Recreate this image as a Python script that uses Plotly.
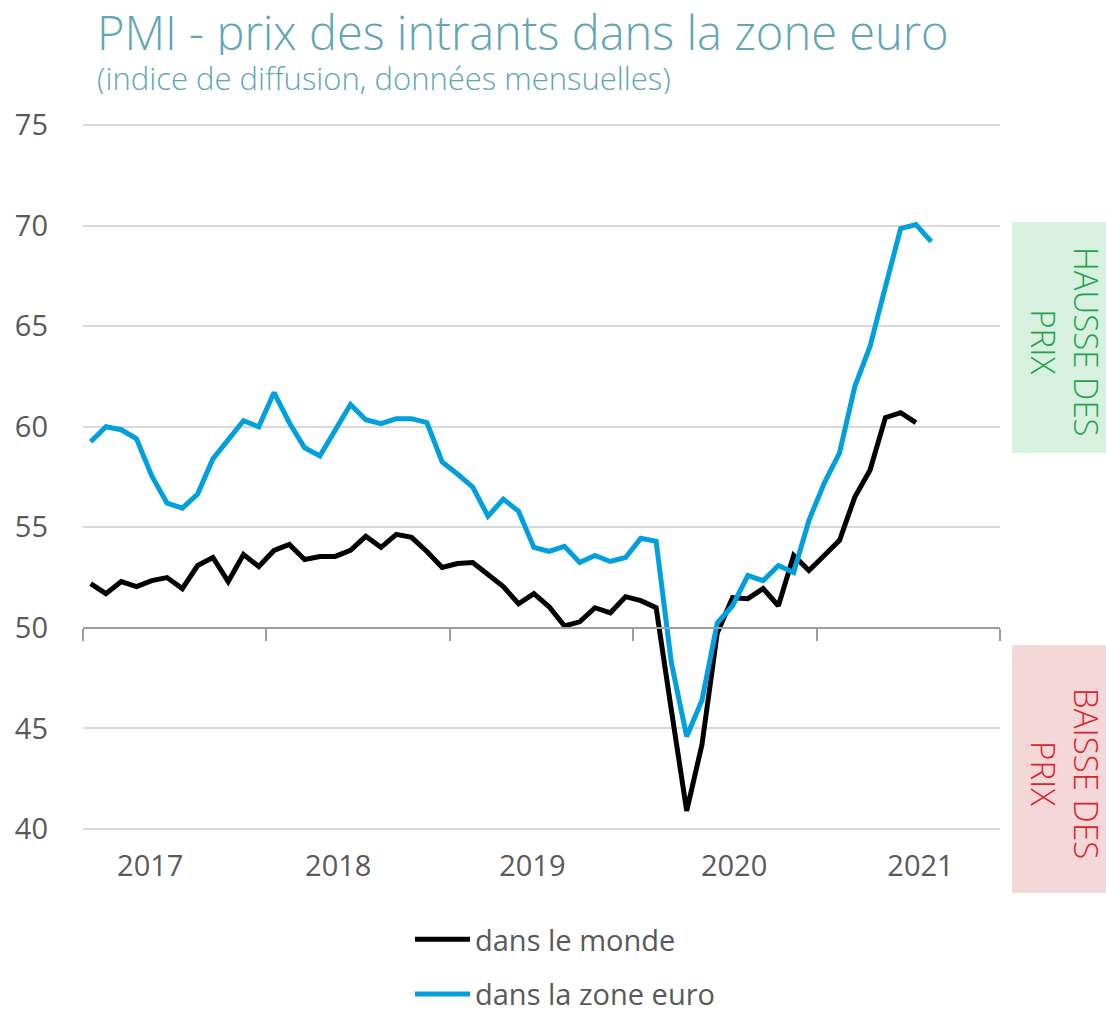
import plotly.graph_objects as go

# ---- data ----
months = [f"{y}-{m:02d}" for y in range(2017, 2022) for m in range(1, 13)][:56]

world = [52.2, 51.7, 52.3, 52.05, 52.35, 52.5, 51.95, 53.1, 53.5, 52.3, 53.65, 53.05,
         53.85, 54.15, 53.4, 53.55, 53.55, 53.85, 54.55, 54.0, 54.65, 54.5, 53.8, 53.0,
         53.2, 53.25, 52.65, 52.05, 51.2, 51.7, 51.05, 50.1, 50.3, 51.0, 50.75, 51.55,
         51.35, 51.0, 45.9, 40.9, 44.2, 49.75, 51.5, 51.45, 51.95, 51.1, 53.6, 52.85,
         53.6, 54.35, 56.5, 57.85, 60.45, 60.7, 60.2, None]

euro = [59.25, 60.0, 59.85, 59.4, 57.55, 56.2, 55.95, 56.65, 58.4, 59.4, 60.3, 60.0,
        61.7, 60.2, 58.95, 58.55, 59.85, 61.1, 60.35, 60.15, 60.4, 60.4, 60.2, 58.25,
        57.65, 57.0, 55.55, 56.4, 55.8, 54.0, 53.8, 54.05, 53.25, 53.6, 53.3, 53.5,
        54.45, 54.3, 48.25, 44.6, 46.4, 50.25, 51.1, 52.6, 52.35, 53.1, 52.75, 55.35,
        57.2, 58.7, 62.0, 64.0, 66.95, 69.85, 70.05, 69.2]

year_labels = ["2017", "2018", "2019", "2020", "2021"]
year_label_pos = [3.9, 16.2, 28.9, 42.1, 54.3]
year_bounds = [-0.5, 11.5, 23.5, 35.5, 47.5, 59.5]
y_ticks = [40, 45, 50, 55, 60, 65, 70, 75]

x_idx = list(range(len(months)))

FONT = "Open Sans"
GRAY = "#595959"
TITLE_COL = "#62A6B5"

fig = go.Figure()
fig.add_trace(go.Scatter(x=x_idx, y=world, mode="lines", name="dans le monde",
                         line=dict(color="#000000", width=5), legendgroup="a"))
fig.add_trace(go.Scatter(x=x_idx, y=euro, mode="lines", name="dans la zone euro",
                         line=dict(color="#00A0DF", width=5), legendgroup="b"))
# empty helper trace so the 50-level axis (x2) is rendered
fig.add_trace(go.Scatter(x=[], y=[], xaxis="x2", yaxis="y", showlegend=False,
                         hoverinfo="skip"))

W, H = 1106, 1010
L, R, T, B = 83, 106, 124, 180
pw, ph = W - L - R, H - T - B
Y0, Y1 = 39.95, 75.05


def px_x(p):
    return (p - L) / pw


def px_y(p):
    return (H - B - p) / ph


fig.update_layout(
    width=W, height=H,
    margin=dict(l=L, r=R, t=T, b=B, autoexpand=False),
    paper_bgcolor="white", plot_bgcolor="white",
    font=dict(family=FONT, color=GRAY, size=28),
    xaxis=dict(range=[-0.5, 59.5], tickmode="array", tickvals=year_label_pos,
               ticktext=year_labels, showgrid=False, zeroline=False, showline=False,
               ticks="", tickfont=dict(size=29, color=GRAY), ticklabelstandoff=16),
    xaxis2=dict(range=[-0.5, 59.5], overlaying="x", anchor="free",
                position=(50 - Y0) / (Y1 - Y0), side="bottom",
                tickmode="array", tickvals=year_bounds, showticklabels=False,
                ticks="outside", ticklen=12, tickwidth=2, tickcolor="#9E9E9E",
                showline=True, linecolor="#9E9E9E", linewidth=2,
                showgrid=False, zeroline=False),
    yaxis=dict(range=[Y0, Y1], tickmode="array", tickvals=y_ticks,
               showgrid=True, gridcolor="#D9D9D9", gridwidth=2, zeroline=False,
               showline=False, ticks="", tickfont=dict(size=29, color=GRAY),
               ticklabelstandoff=34),
    showlegend=True,
    legend=dict(orientation="v", x=px_x(410), xanchor="left", y=px_y(914),
                yanchor="top", font=dict(size=29, color=GRAY, family=FONT),
                itemwidth=55, tracegroupgap=14, bgcolor="rgba(0,0,0,0)"),
)

# side boxes
fig.add_shape(type="rect", xref="paper", yref="paper",
              x0=px_x(1012), x1=px_x(1106), y0=px_y(453), y1=px_y(222),
              fillcolor="#D8F0E0", line=dict(width=0), layer="below")
fig.add_shape(type="rect", xref="paper", yref="paper",
              x0=px_x(1012), x1=px_x(1106), y0=px_y(893), y1=px_y(645),
              fillcolor="#F4D7D8", line=dict(width=0), layer="below")
fig.add_annotation(xref="paper", yref="paper", x=px_x(1065), y=px_y(342),
                   xanchor="center", yanchor="middle",
                   text="HAUSSE DES<br>PRIX", textangle=90, showarrow=False,
                   font=dict(size=33, color="#1FA34A", family=FONT, weight=300),
                   align="center")
fig.add_annotation(xref="paper", yref="paper", x=px_x(1065), y=px_y(773),
                   xanchor="center", yanchor="middle",
                   text="BAISSE DES<br>PRIX", textangle=90, showarrow=False,
                   font=dict(size=33, color="#D9262A", family=FONT, weight=300),
                   align="center")

# titles
fig.add_annotation(xref="paper", yref="paper", x=px_x(95), y=px_y(32),
                   xanchor="left", yanchor="middle", showarrow=False,
                   height=46, valign="middle",
                   text="PMI - prix des intrants dans la zone euro",
                   font=dict(size=47, color=TITLE_COL, family=FONT, weight=300))
fig.add_annotation(xref="paper", yref="paper", x=px_x(95), y=px_y(78),
                   xanchor="left", yanchor="middle", showarrow=False,
                   height=32, valign="middle",
                   text="(indice de diffusion, données mensuelles)",
                   font=dict(size=31, color=TITLE_COL, family=FONT, weight=300))

fig.write_html("out.html", config={"displayModeBar": False},
               post_script="document.body.style.margin='0px';")
